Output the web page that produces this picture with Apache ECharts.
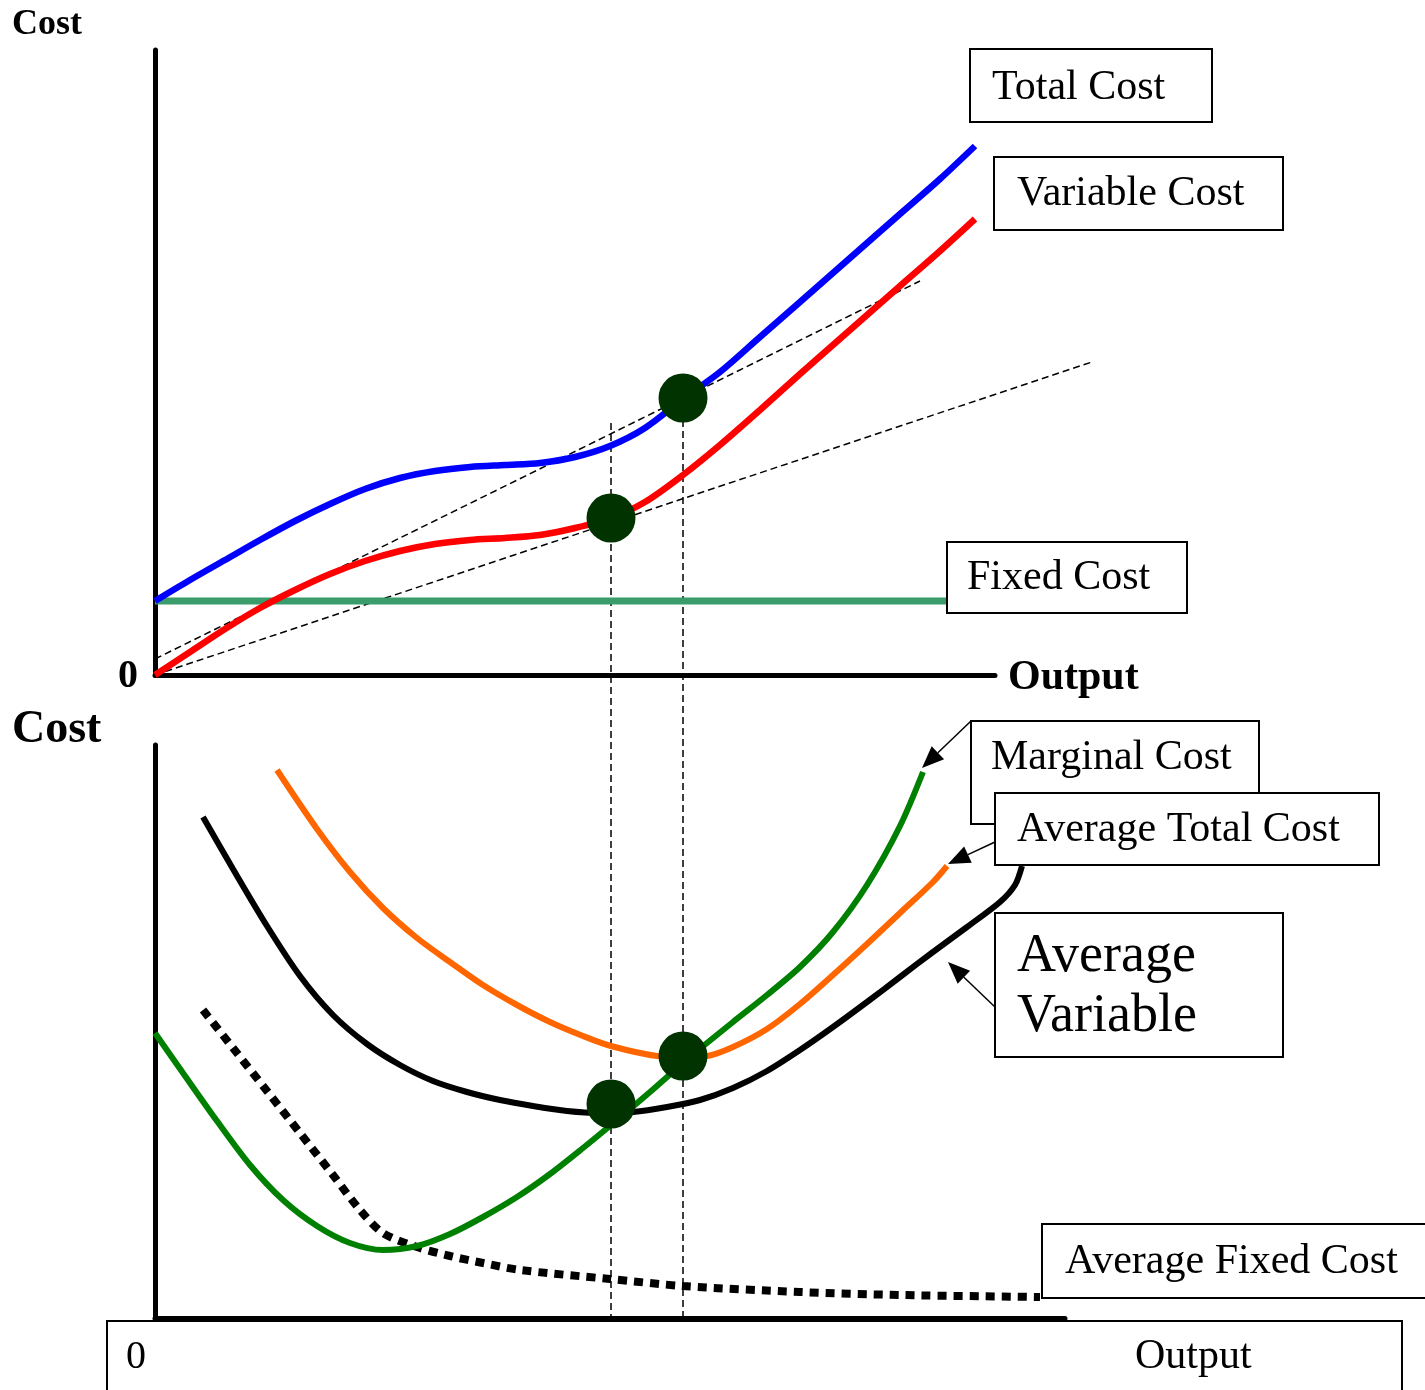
<!DOCTYPE html>
<html><head><meta charset="utf-8">
<script src="https://cdn.jsdelivr.net/npm/echarts@6/dist/echarts.min.js"></script>
<style>html,body{margin:0;padding:0;background:#fff}#c{width:1425px;height:1390px}</style>
</head><body><div id="c"></div>
<script>
// ---------- Top panel (total costs) ----------
const tcX = [0, 3.5, 7, 10.5, 14, 17.5, 21, 24.5, 28, 31.5, 35, 38.5, 42, 45.5, 49, 52.8, 56.5, 60.5, 64.5, 69.5, 74.5, 78.5, 82];
const tcY = [7.4, 9.5, 11.5, 13.5, 15.4, 17.1, 18.6, 19.7, 20.4, 20.8, 21.0, 21.2, 21.8, 22.9, 24.7, 27.6, 30.3, 33.8, 37.3, 41.7, 46.1, 49.6, 52.9];
const vcX = [0, 3.5, 7, 10.5, 14, 17.5, 21, 24.5, 28, 31.5, 35, 38.5, 42, 45.6, 49, 52.8, 56.5, 60.5, 64.5, 69.5, 74.5, 78.5, 82];
const vcY = [0, 2.3, 4.6, 6.7, 8.5, 10.1, 11.4, 12.4, 13.1, 13.5, 13.7, 14.0, 14.7, 15.7, 17.3, 20.0, 23.0, 26.5, 30.1, 34.5, 38.9, 42.4, 45.6];
const fcX = [0, 79.1];
const fcY = [7.4, 7.4];
const ray1X = [0, 76.5], ray1Y = [1.6, 39.4];
const ray2X = [0, 93.7], ray2Y = [0, 31.3];
const q1 = 45.6, q2 = 52.8;
const vline1Y = [25.2, -64.5], vline2Y = [27.7, -64.5];
const topDotsX = [45.6, 52.8], topDotsY = [15.7, 27.7];

// ---------- Bottom panel (per-unit costs) ----------
const mcX = [0, 2.8, 6.2, 9.5, 12.8, 16.2, 19.5, 22.8, 26.2, 29.5, 32.8, 36.2, 39.5, 42.8, 45.6, 49.5, 52.8, 55.2, 57.8, 61.2, 64.5, 67.8, 71.2, 74.5, 76.8];
const mcY = [28.5, 24.5, 19.7, 15.3, 11.8, 9.2, 7.5, 6.8, 7.2, 8.4, 10.1, 12.1, 14.4, 17.0, 19.3, 22.6, 25.5, 27.5, 29.6, 32.3, 35.1, 38.6, 43.3, 49.2, 54.6];
const atcX = [12.2, 16.2, 19.5, 22.8, 26.2, 29.5, 32.8, 36.2, 39.5, 42.8, 45.6, 50.2, 52.8, 55.2, 57.8, 61.2, 64.5, 67.8, 71.2, 74.5, 77.8, 79.2];
const atcY = [54.8, 48.9, 44.6, 41.0, 38.0, 35.6, 33.3, 31.3, 29.6, 28.2, 27.2, 26.2, 26.1, 26.2, 27.1, 28.9, 31.4, 34.3, 37.4, 40.5, 43.6, 45.2];
const avcX = [4.8, 7.8, 11.2, 14.5, 17.8, 21.2, 24.5, 27.8, 31.2, 34.5, 37.8, 41.2, 44.5, 47.8, 51.2, 54.5, 57.8, 61.2, 64.5, 67.8, 71.2, 74.5, 77.8, 81.2, 84.5, 86.0, 86.7];
const avcY = [50.1, 44.9, 39.2, 34.2, 30.3, 27.4, 25.3, 23.7, 22.6, 21.8, 21.2, 20.7, 20.5, 20.6, 21.1, 21.8, 23.0, 24.7, 26.8, 29.1, 31.6, 34.1, 36.6, 39.1, 41.6, 43.3, 45.2];
const afcX = [4.8, 7.8, 11.2, 14.5, 17.8, 20.5, 22.8, 26.2, 29.5, 32.8, 36.5, 45.5, 52.8, 64.5, 74.5, 88.5];
const afcY = [30.8, 27.0, 22.7, 18.5, 14.3, 10.8, 8.5, 7.1, 6.2, 5.5, 4.8, 3.9, 3.2, 2.6, 2.3, 2.1];
const botDotsX = [45.6, 52.8], botDotsY = [21.4, 26.2];

// ---------- Text ----------
const labels = {
  tc: 'Total Cost', vc: 'Variable Cost', fc: 'Fixed Cost',
  mc: 'Marginal Cost', atc: 'Average Total Cost', avc1: 'Average', avc2: 'Variable',
  afc: 'Average Fixed Cost', cost: 'Cost', output: 'Output', zero: '0'
};

const zip = (xs, ys) => xs.map((x, i) => [x, ys[i]]);
const SERIF = '"Liberation Serif", "Times New Roman", serif';

function lineS(name, xi, yi, xs, ys, color, width, extra) {
  return Object.assign({
    name, type: 'line', xAxisIndex: xi, yAxisIndex: yi,
    data: zip(xs, ys), showSymbol: false, symbol: 'none', smooth: 0.3,
    lineStyle: { color, width, cap: 'butt' }, clip: false, z: 3, silent: true
  }, extra || {});
}
function dashS(xi, yi, xs, ys) {
  return { type: 'line', xAxisIndex: xi, yAxisIndex: yi, data: zip(xs, ys), symbol: 'none', smooth: false,
    lineStyle: { color: '#000', width: 1.5, type: [7, 4] }, clip: false, z: 2, silent: true };
}
function dotS(xi, yi, xs, ys) {
  return { type: 'scatter', xAxisIndex: xi, yAxisIndex: yi, data: zip(xs, ys), symbol: 'circle', symbolSize: 49,
    itemStyle: { color: '#003300', opacity: 1 }, z: 6, silent: true };
}
function box(x, y, w, h) {
  return { type: 'rect', shape: { x, y, width: w, height: h }, style: { fill: '#fff', stroke: '#000', lineWidth: 2 }, z: 100 };
}
function txt(t, x, y, size, bold) {
  return { type: 'text', x, y, style: { text: t, font: (bold ? 'bold ' : '') + size + 'px ' + SERIF, fill: '#000', align: 'left', verticalAlign: 'middle' }, z: 101 };
}
function arrow(sx, sy, tx, ty) {
  const dx = tx - sx, dy = ty - sy, len = Math.hypot(dx, dy), ux = dx / len, uy = dy / len;
  const L = 22, W = 9, bx = tx - ux * L, by = ty - uy * L;
  return [
    { type: 'line', shape: { x1: sx, y1: sy, x2: bx, y2: by }, style: { stroke: '#000', lineWidth: 1.5 }, z: 100 },
    { type: 'polygon', shape: { points: [[tx, ty], [bx - uy * W, by + ux * W], [bx + uy * W, by - ux * W]] }, style: { fill: '#000' }, z: 100 }
  ];
}

const axisBase = {
  type: 'value', axisTick: { show: false }, axisLabel: { show: false }, splitLine: { show: false },
  axisLine: { show: true, onZero: false, lineStyle: { color: '#000', width: 5 } }
};
const hiddenAxis = { type: 'value', show: false, axisLine: { show: false }, splitLine: { show: false } };

const chart = echarts.init(document.getElementById('c'), null, { renderer: 'canvas' });
chart.setOption({
  animation: false,
  backgroundColor: '#fff',
  grid: [
    { left: 155, top: 50, width: 840, height: 625 },
    { left: 155, top: 745, width: 910, height: 573 },
    { left: 155, top: 50, width: 1000, height: 625 }   // same scale as top panel, wider, for the long ray
  ],
  xAxis: [
    Object.assign({}, axisBase, { gridIndex: 0, min: 0, max: 84 }),
    Object.assign({}, axisBase, { gridIndex: 1, min: 0, max: 91 }),
    Object.assign({}, hiddenAxis, { gridIndex: 2, min: 0, max: 100 })
  ],
  yAxis: [
    Object.assign({}, axisBase, { gridIndex: 0, min: 0, max: 62.5 }),
    Object.assign({}, axisBase, { gridIndex: 1, min: 0, max: 57.3 }),
    Object.assign({}, hiddenAxis, { gridIndex: 2, min: 0, max: 62.5 })
  ],
  series: [
    // top panel
    dashS(0, 0, ray1X, ray1Y),
    dashS(2, 2, ray2X, ray2Y),
    dashS(0, 0, [q1, q1], vline1Y),
    dashS(0, 0, [q2, q2], vline2Y),
    lineS('Fixed Cost', 0, 0, fcX, fcY, '#3a9b6b', 7, { smooth: false }),
    lineS('Total Cost', 0, 0, tcX, tcY, '#0000ff', 6.5),
    lineS('Variable Cost', 0, 0, vcX, vcY, '#ff0000', 6.5),
    dotS(0, 0, topDotsX, topDotsY),
    // bottom panel
    lineS('Average Fixed Cost', 1, 1, afcX, afcY, '#000', 8, { lineStyle: { color: '#000', width: 8, type: [9, 7], cap: 'butt' } }),
    lineS('Marginal Cost', 1, 1, mcX, mcY, '#008000', 6),
    lineS('Average Total Cost', 1, 1, atcX, atcY, '#ff6600', 6),
    lineS('Average Variable Cost', 1, 1, avcX, avcY, '#000', 6),
    dotS(1, 1, botDotsX, botDotsY)
  ],
  graphic: [
    txt(labels.cost, 12, 25, 36, true),
    txt(labels.zero, 118, 677, 40, true),
    txt(labels.output, 1008, 678, 42, true),
    txt(labels.cost, 12, 730, 46, true),
    box(970, 49, 242, 73), txt(labels.tc, 992, 88, 42),
    box(994, 157, 289, 73), txt(labels.vc, 1017, 194, 42),
    box(947, 542, 240, 71), txt(labels.fc, 967, 578, 42),
    box(971, 721, 288, 103), txt(labels.mc, 991, 758, 42),
    box(995, 793, 384, 72), txt(labels.atc, 1017, 830, 42),
    box(995, 913, 288, 144), txt(labels.avc1, 1017, 957, 54), txt(labels.avc2, 1017, 1017, 54),
    box(1042, 1224, 400, 74), txt(labels.afc, 1065, 1262, 42),
    box(107, 1321, 1295, 90), txt(labels.zero, 126, 1357, 40), txt(labels.output, 1135, 1357, 42),
    ...arrow(971, 721, 922, 768),
    ...arrow(995, 842, 948, 864),
    ...arrow(995, 1007, 948, 962)
  ]
});
</script></body></html>
